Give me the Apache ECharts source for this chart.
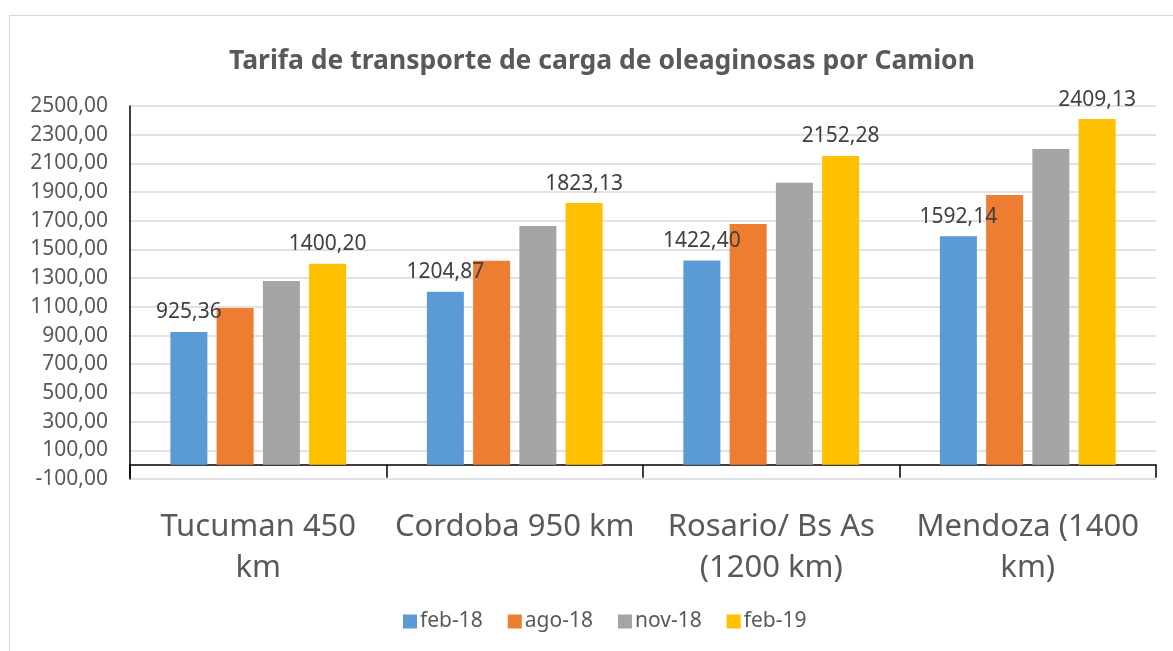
<!DOCTYPE html>
<html>
<head>
<meta charset="utf-8">
<script src="https://cdn.jsdelivr.net/npm/echarts@6/dist/echarts.min.js"></script>
<style>
  html, body { margin: 0; padding: 0; background: #fff; overflow: hidden; }
  #frame { position: absolute; left: 9px; top: 15px; width: 1200px; height: 700px; border: 1.5px solid #d9d9d9; box-sizing: border-box; }
  #chart { position: absolute; left: 0; top: 0; width: 1173px; height: 651px; }
</style>
</head>
<body>
<div id="frame"></div>
<div id="chart"></div>
<script>
const categories = ['Tucuman 450\nkm', 'Cordoba 950 km', 'Rosario/ Bs As\n(1200 km)', 'Mendoza (1400\nkm)']
const seriesNames = ['feb-18', 'ago-18', 'nov-18', 'feb-19']
const feb18 = [925.36, 1204.87, 1422.40, 1592.14]
const ago18 = [1092, 1422, 1677, 1880]
const nov18 = [1281, 1663, 1965, 2200]
const feb19 = [1400.20, 1823.13, 2152.28, 2409.13]
const yTicks = [-100, 100, 300, 500, 700, 900, 1100, 1300, 1500, 1700, 1900, 2100, 2300, 2500]
const colors = ['#5b9bd5', '#ed7d31', '#a5a5a5', '#ffc000']

const fmt = v => Number(v).toFixed(2).replace('.', ',')
const font = '"Noto Sans", "Open Sans", sans-serif'

const chart = echarts.init(document.getElementById('chart'))

function bar(name, data, i, labelled) {
  return {
    name,
    type: 'bar',
    data,
    barWidth: 37,
    barGap: '25%',
    itemStyle: { color: colors[i] },
    label: {
      show: labelled,
      position: 'top',
      distance: 9,
      color: '#404040',
      fontSize: 21,
      fontFamily: font,
      formatter: p => fmt(p.value),
    },
  }
}

chart.setOption({
  animation: false,
  color: colors,
  title: {
    text: 'Tarifa de transporte de carga de oleaginosas por Camion',
    left: 224,
    top: 43,
    textStyle: { color: '#595959', fontSize: 26.5, fontWeight: 'bold', fontFamily: font },
  },
  grid: { left: 130, right: 17, top: 106, bottom: 172 },
  legend: {
    data: seriesNames,
    left: 398,
    top: 606,
    itemWidth: 14,
    itemHeight: 14,
    itemGap: 25,
    icon: 'rect',
    textStyle: { color: '#595959', fontSize: 21, fontFamily: font, padding: [0, 0, 0, -2] },
  },
  xAxis: {
    type: 'category',
    data: categories,
    axisLine: { onZero: true, lineStyle: { color: '#000', width: 1.5 } },
    axisTick: { show: true, length: 13, lineStyle: { color: '#000', width: 1.5 } },
    axisLabel: {
      color: '#595959',
      fontSize: 31,
      fontFamily: font,
      lineHeight: 41,
      margin: 28,
      interval: 0,
    },
  },
  yAxis: {
    type: 'value',
    min: -100,
    max: 2500,
    axisLine: { show: true, lineStyle: { color: '#000', width: 1.5 } },
    axisTick: { show: false, customValues: yTicks },
    axisLabel: {
      customValues: yTicks,
      color: '#595959',
      fontSize: 21,
      fontFamily: font,
      margin: 22,
      formatter: v => fmt(v),
    },
    splitLine: { show: true, lineStyle: { color: '#d9d9d9', width: 1.5 } },
  },
  series: [
    bar(seriesNames[0], feb18, 0, true),
    bar(seriesNames[1], ago18, 1, false),
    bar(seriesNames[2], nov18, 2, false),
    bar(seriesNames[3], feb19, 3, true),
  ],
})
</script>
</body>
</html>
